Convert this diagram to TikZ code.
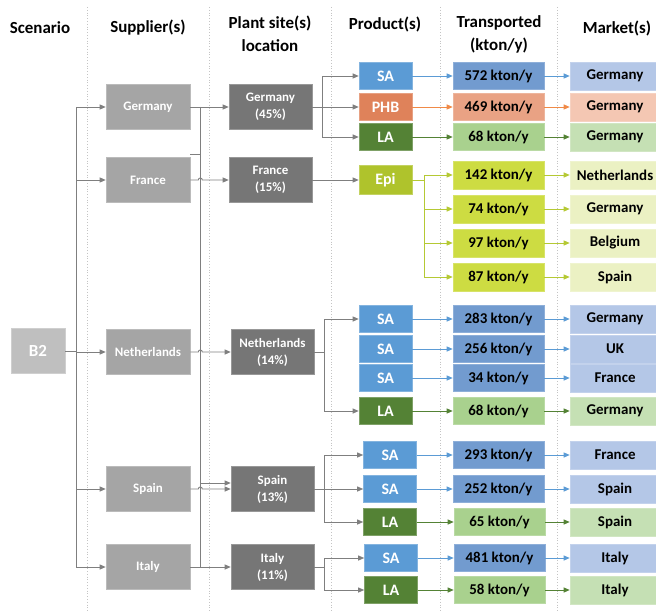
\documentclass[tikz,border=0pt]{standalone}
\usepackage{fontspec}
\setmainfont{Carlito}
\usetikzlibrary{arrows.meta}

% box fills
\definecolor{supGray}{HTML}{A5A5A5}
\definecolor{plantGray}{HTML}{767676}
\definecolor{scenGray}{HTML}{BFBFBF}
\definecolor{connGray}{HTML}{7F7F7F}
\definecolor{sepGray}{HTML}{C4C4C4}
\definecolor{saP}{HTML}{5B9BD5}
\definecolor{saT}{HTML}{729BCF}
\definecolor{saM}{HTML}{B4C7E7}
\definecolor{saA}{HTML}{5B9BD5}
\definecolor{phbP}{HTML}{DF825A}
\definecolor{phbT}{HTML}{E9A284}
\definecolor{phbM}{HTML}{F4C7B3}
\definecolor{phbA}{HTML}{F08A47}
\definecolor{laP}{HTML}{548235}
\definecolor{laT}{HTML}{A9D18E}
\definecolor{laM}{HTML}{C5E0B4}
\definecolor{laA}{HTML}{548235}
\definecolor{epiP}{HTML}{AFC32C}
\definecolor{epiT}{HTML}{CDDC42}
\definecolor{epiM}{HTML}{EBF1C3}
\definecolor{epiA}{HTML}{B5C934}

\begin{document}
\begin{tikzpicture}[x=1bp,y=-1bp,
  hdr/.style={font=\fontsize{17}{23}\selectfont\bfseries, align=center, inner sep=0pt},
  boxbase/.style={rectangle, inner sep=0pt, align=center, line width=0.6bp},
  graybox/.style={boxbase, fill=#1, draw=#1!75!white, text=white,
    minimum width=84bp, minimum height=45bp,
    font=\fontsize{13}{17}\selectfont\bfseries},
  prod/.style={boxbase, fill=#1, draw=#1!75!white, text=white,
    minimum width=53bp, minimum height=27bp,
    font=\fontsize{16}{19}\selectfont\bfseries},
  trans/.style={boxbase, fill=#1, draw=#1!80!white, text=black,
    minimum width=91bp, minimum height=27bp,
    font=\fontsize{15}{18}\selectfont\bfseries},
  mkt/.style={boxbase, fill=#1, draw=#1!80!white, text=black,
    minimum width=90bp, minimum height=28bp,
    font=\fontsize{15}{18}\selectfont\bfseries},
  gline/.style={draw=connGray, line width=0.9bp},
  garrow/.style={gline, -{Triangle[length=6bp,width=5bp]}},
  carrow/.style={draw=#1, line width=0.9bp, -{Triangle[length=6bp,width=5bp]}},
  sep/.style={draw=sepGray, line width=0.8bp, dotted}
]
\useasboundingbox (0,0) rectangle (656,611);
\clip (0,0) rectangle (656,611);

% column separators
\foreach \sx in {87,209,331,440,557}
  \draw[sep] (\sx,7) -- (\sx,611);

% column headings
\node[hdr] (hScen)  at (40,28)  {Scenario};
\node[hdr] (hSup)   at (148,28) {Supplier(s)};
\node[hdr] (hPlant) at (270,34) {Plant site(s)\\location};
\node[hdr] (hProd)  at (385,24) {Product(s)};
\node[hdr] (hTr)    at (499,34) {Transported\\(kton/y)};
\node[hdr] (hMkt)   at (617,28) {Market(s)};

% scenario
\node[graybox=scenGray, minimum width=54bp, font=\fontsize{17}{20}\selectfont\bfseries] (b2) at (38,351) {B2};

% suppliers
\node[graybox=supGray] (sGer) at (148,107) {Germany};
\node[graybox=supGray] (sFra) at (148,180) {France};
\node[graybox=supGray] (sNet) at (148,352) {Netherlands};
\node[graybox=supGray] (sSpa) at (148,489) {Spain};
\node[graybox=supGray] (sIta) at (148,567) {Italy};

% plant sites
\node[graybox=plantGray, minimum width=83bp] (pGer) at (270.5,107) {Germany\\(45\%)};
\node[graybox=plantGray, minimum width=83bp] (pFra) at (270.5,180) {France\\(15\%)};
\node[graybox=plantGray, minimum width=83bp] (pNet) at (272.5,352) {Netherlands\\(14\%)};
\node[graybox=plantGray, minimum width=83bp] (pSpa) at (272.5,489) {Spain\\(13\%)};
\node[graybox=plantGray, minimum width=83bp] (pIta) at (272.5,567) {Italy\\(11\%)};

% products
\node[prod=saP]  (prA1) at (385.5,76)  {SA};
\node[prod=phbP] (prA2) at (385.5,107) {PHB};
\node[prod=laP]  (prA3) at (385.5,137) {LA};
\node[prod=epiP, minimum height=29bp] (prB1) at (385.5,180) {Epi};
\node[prod=saP]  (prC1) at (385.5,319) {SA};
\node[prod=saP]  (prC2) at (385.5,349) {SA};
\node[prod=saP]  (prC3) at (385.5,378) {SA};
\node[prod=laP]  (prC4) at (385.5,411) {LA};
\node[prod=saP]  (prD1) at (390,455) {SA};
\node[prod=saP]  (prD2) at (390,489) {SA};
\node[prod=laP]  (prD3) at (390,522) {LA};
\node[prod=saP]  (prE1) at (391,558) {SA};
\node[prod=laP]  (prE2) at (391,590) {LA};

% transported amounts
\node[trans=saT]  (tA1) at (498.5,76)  {572 kton/y};
\node[trans=phbT] (tA2) at (498.5,107) {469 kton/y};
\node[trans=laT]  (tA3) at (498.5,137) {68 kton/y};
\node[trans=epiT, minimum height=28bp] (tB1) at (498.5,175) {142 kton/y};
\node[trans=epiT, minimum height=28bp] (tB2) at (498.5,209) {74 kton/y};
\node[trans=epiT, minimum height=28bp] (tB3) at (498.5,243) {97 kton/y};
\node[trans=epiT, minimum height=28bp] (tB4) at (498.5,277) {87 kton/y};
\node[trans=saT]  (tC1) at (498.5,319) {283 kton/y};
\node[trans=saT]  (tC2) at (498.5,349) {256 kton/y};
\node[trans=saT]  (tC3) at (498.5,378) {34 kton/y};
\node[trans=laT]  (tC4) at (498.5,411) {68 kton/y};
\node[trans=saT]  (tD1) at (498.5,455) {293 kton/y};
\node[trans=saT]  (tD2) at (498.5,489) {252 kton/y};
\node[trans=laT]  (tD3) at (499.5,522) {65 kton/y};
\node[trans=saT]  (tE1) at (499.5,558) {481 kton/y};
\node[trans=laT]  (tE2) at (499.5,590) {58 kton/y};

% markets
\node[mkt=saM]  (mA1) at (615,76)  {Germany};
\node[mkt=phbM] (mA2) at (615,107) {Germany};
\node[mkt=laM]  (mA3) at (615,137) {Germany};
\node[mkt=epiM] (mB1) at (615,175) {Netherlands};
\node[mkt=epiM] (mB2) at (615,209) {Germany};
\node[mkt=epiM] (mB3) at (615,243) {Belgium};
\node[mkt=epiM] (mB4) at (615,277) {Spain};
\node[mkt=saM]  (mC1) at (615,319) {Germany};
\node[mkt=saM]  (mC2) at (615,349) {UK};
\node[mkt=saM]  (mC3) at (615,378) {France};
\node[mkt=laM]  (mC4) at (615,411) {Germany};
\node[mkt=saM]  (mD1) at (615,455) {France};
\node[mkt=saM]  (mD2) at (615,489) {Spain};
\node[mkt=laM]  (mD3) at (615,522) {Spain};
\node[mkt=saM]  (mE1) at (615,558) {Italy};
\node[mkt=laM]  (mE2) at (615,590) {Italy};

% scenario -> suppliers
\coordinate (tr) at (76,351);
\draw[gline] (b2.east) -- (tr);
\foreach \s in {sGer,sFra,sNet,sSpa,sIta}
  \draw[garrow] (tr) |- (\s.west);

% suppliers -> plant sites
\coordinate (vTop) at (200,107);
\coordinate (vSpa) at (200,483);
\coordinate (vBot) at (200,567);
\coordinate (stubA) at (190,154);
\draw[gline] (vTop) -- (vBot);
\draw[gline] (stubA) -- (stubA -| vTop);
\draw[garrow] (sGer.east) -- (pGer.west);
\draw[garrow] (sFra.east) -- ++(8,0) arc[start angle=180,end angle=360,radius=2] -- (pFra.west);
\draw[garrow] (sNet.east) -- ++(8,0) arc[start angle=180,end angle=360,radius=2] -- (pNet.west);
\draw[garrow] (sSpa.east) -- ++(8,0) arc[start angle=180,end angle=360,radius=2] -- (pSpa.west);
\draw[garrow] (vSpa) -- (vSpa -| pSpa.west);
\draw[garrow] (sIta.east) -- (pIta.west);

% plant sites -> products
\coordinate (gb) at (322,107);
\draw[garrow] (pGer.east) -- (prA2.west);
\draw[garrow] (gb) |- (prA1.west);
\draw[garrow] (gb) |- (prA3.west);
\draw[garrow] (pFra.east) -- (prB1.west);
\coordinate (nb) at (324,352);
\draw[gline] (pNet.east) -- (nb);
\draw[garrow] (nb) |- (prC1.west);
\draw[garrow] (nb) |- (prC4.west);
\coordinate (sb) at (324,489);
\draw[gline] (pSpa.east) -- (sb);
\draw[garrow] (sb) |- (prD1.west);
\draw[garrow] (sb) -- (prD2.west);
\draw[garrow] (sb) |- (prD3.west);
\coordinate (ib) at (324,567);
\draw[gline] (pIta.east) -- (ib);
\draw[garrow] (ib) |- (prE1.west);
\draw[garrow] (ib) |- (prE2.west);

% products -> transported -> markets
\foreach \p/\t/\m/\c in {prA1/tA1/mA1/saA, prA2/tA2/mA2/phbA, prA3/tA3/mA3/laA,
    prC1/tC1/mC1/saA, prC2/tC2/mC2/saA, prC3/tC3/mC3/saA, prC4/tC4/mC4/laA,
    prD1/tD1/mD1/saA, prD2/tD2/mD2/saA, prD3/tD3/mD3/laA,
    prE1/tE1/mE1/saA, prE2/tE2/mE2/laA} {
  \draw[carrow=\c] (\p.east) -- (\t.west);
  \draw[carrow=\c] (\t.east) -- (\m.west);
}

% epichlorohydrin fan-out
\coordinate (eb) at (424,180);
\draw[draw=epiA, line width=0.9bp] (prB1.east) -- (eb);
\foreach \t/\m in {tB1/mB1, tB2/mB2, tB3/mB3, tB4/mB4} {
  \draw[carrow=epiA] (eb) |- (\t.west);
  \draw[carrow=epiA] (\t.east) -- (\m.west);
}
\end{tikzpicture}
\end{document}
